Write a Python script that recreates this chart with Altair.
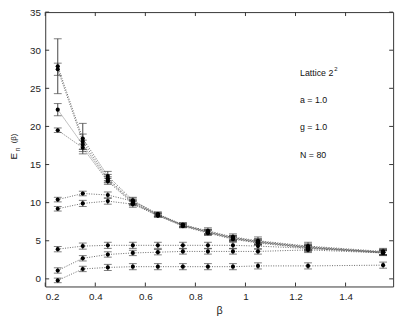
import altair as alt
import pandas as pd

beta = [0.25, 0.35, 0.45, 0.55, 0.65, 0.75, 0.85, 0.95, 1.05, 1.25, 1.55]

E8 = [27.9, 18.4, 13.5, 10.3, 8.5, 7.1, 6.3, 5.5, 5.0, 4.3, 3.6]
E7 = [27.5, 18.0, 13.2, 10.1, 8.4, 7.0, 6.2, 5.4, 4.9, 4.2, 3.5]
E6 = [22.2, 17.6, 13.0, 10.0, 8.4, 7.0, 6.1, 5.3, 4.8, 4.1, 3.5]
E5 = [19.5, 17.2, 12.8, 9.9, 8.3, 6.9, 6.0, 5.2, 4.7, 4.0, 3.4]
E4 = [10.4, 11.2, 11.0, 10.2, 8.5, 7.1, 6.2, 5.4, 4.9, 4.2, 3.5]
E3 = [9.2, 9.9, 10.2, 9.8, 8.3, 7.0, 6.1, 5.3, 4.8, 4.1, 3.4]
E2 = [3.9, 4.3, 4.4, 4.4, 4.4, 4.4, 4.4, 4.4, 4.3, 4.0, 3.5]
E1 = [1.1, 2.7, 3.2, 3.4, 3.5, 3.6, 3.6, 3.6, 3.6, 3.8, 3.4]
E0 = [-0.2, 1.3, 1.5, 1.6, 1.6, 1.6, 1.6, 1.6, 1.7, 1.7, 1.8]

err8 = [3.6, 2.0, 0.6, 0.4, 0.3, 0.3, 0.4, 0.4, 0.5, 0.5, 0.4]
err7 = [0.8, 1.0, 0.5, 0.3, 0.2, 0.2, 0.3, 0.3, 0.4, 0.4, 0.3]
err6 = [0.8, 0.6, 0.4, 0.3, 0.2, 0.2, 0.3, 0.3, 0.3, 0.3, 0.3]
err5 = [0.3, 0.5, 0.4, 0.3, 0.2, 0.2, 0.3, 0.3, 0.3, 0.3, 0.3]
err4 = [0.3, 0.3, 0.4, 0.4, 0.2, 0.2, 0.3, 0.3, 0.3, 0.3, 0.3]
err3 = [0.3, 0.4, 0.4, 0.4, 0.2, 0.2, 0.3, 0.3, 0.3, 0.3, 0.3]
err2 = [0.35, 0.4, 0.4, 0.4, 0.4, 0.4, 0.4, 0.4, 0.4, 0.4, 0.4]
err1 = [0.35, 0.35, 0.35, 0.35, 0.35, 0.35, 0.35, 0.35, 0.35, 0.35, 0.35]
err0 = [0.3, 0.35, 0.4, 0.4, 0.4, 0.4, 0.4, 0.4, 0.4, 0.4, 0.4]

x_ticks = [0.2, 0.4, 0.6, 0.8, 1.0, 1.2, 1.4]
y_ticks = [0, 5, 10, 15, 20, 25, 30, 35]

series = {
    "E0": (E0, err0), "E1": (E1, err1), "E2": (E2, err2),
    "E3": (E3, err3), "E4": (E4, err4), "E5": (E5, err5),
    "E6": (E6, err6), "E7": (E7, err7), "E8": (E8, err8),
}

rows = []
for name, (vals, errs) in series.items():
    for b, v, e in zip(beta, vals, errs):
        rows.append(dict(series=name, beta=b, E=v, lo=v - e, hi=v + e))
df = pd.DataFrame(rows)

W, H = 355, 280
xs = alt.Scale(domain=[0.2, 1.59], nice=False, zero=False)
ys = alt.Scale(domain=[-1, 35], nice=False, zero=False)

xaxis = alt.Axis(values=x_ticks, title="β", format="~g", labelPadding=5, titlePadding=4,
                 titleFontSize=11, titleFontWeight="normal", labelOverlap=False)
yaxis = alt.Axis(values=y_ticks, title=None, labelPadding=5, labelOverlap=False)

base = alt.Chart(df)
lines = base.mark_line(strokeDash=[1, 1.5], strokeWidth=1, color="#666").encode(
    x=alt.X("beta:Q", scale=xs, axis=xaxis),
    y=alt.Y("E:Q", scale=ys, axis=yaxis),
    detail="series:N",
)
bars = base.mark_rule(color="#444", strokeWidth=1).encode(
    x=alt.X("beta:Q", scale=xs, axis=xaxis), y=alt.Y("lo:Q", scale=ys, axis=yaxis), y2="hi:Q")
cap_lo = base.mark_tick(orient="horizontal", size=8, thickness=1, color="#444").encode(
    x=alt.X("beta:Q", scale=xs, axis=xaxis), y=alt.Y("lo:Q", scale=ys, axis=yaxis))
cap_hi = base.mark_tick(orient="horizontal", size=8, thickness=1, color="#444").encode(
    x=alt.X("beta:Q", scale=xs, axis=xaxis), y=alt.Y("hi:Q", scale=ys, axis=yaxis))
points = base.mark_circle(size=18, color="black", opacity=1).encode(
    x=alt.X("beta:Q", scale=xs, axis=xaxis), y=alt.Y("E:Q", scale=ys, axis=yaxis))

xt = alt.Chart(pd.DataFrame({"t": x_ticks}))
yt = alt.Chart(pd.DataFrame({"t": y_ticks}))
tick_col = "#333"
t_bottom = xt.mark_rule(color=tick_col).encode(x=alt.X("t:Q", scale=xs, axis=xaxis), y=alt.value(H), y2=alt.value(H - 4))
t_top = xt.mark_rule(color=tick_col).encode(x=alt.X("t:Q", scale=xs, axis=xaxis), y=alt.value(0), y2=alt.value(4))
t_left = yt.mark_rule(color=tick_col).encode(y=alt.Y("t:Q", scale=ys, axis=yaxis), x=alt.value(0), x2=alt.value(4))
t_right = yt.mark_rule(color=tick_col).encode(y=alt.Y("t:Q", scale=ys, axis=yaxis), x=alt.value(W), x2=alt.value(W - 4))

font = "Liberation Sans"
lab = pd.DataFrame({"a": [0]})
def txt(s, x, y, size=9, angle=0, align="left"):
    return alt.Chart(lab).mark_text(text=s, font=font, fontSize=size, color="#111",
                                    align=align, baseline="middle", angle=angle).encode(
        x=alt.value(x), y=alt.value(y))

annot = [
    txt("Lattice 2", 260, 62),
    txt("2", 295, 58, size=6),
    txt("a = 1.0", 260, 90),
    txt("g = 1.0", 260, 117),
    txt("N = 80", 260, 146),
    txt("E", -32, 147, size=10, angle=270, align="center"),
    txt("n", -28, 140, size=7, angle=270, align="center"),
    txt("(β)", -32, 129, size=8, angle=270, align="center"),
]

chart = alt.layer(lines, bars, cap_lo, cap_hi, points, t_bottom, t_top, t_left, t_right, *annot).properties(
    width=W, height=H, autosize="none",
    padding={"left": 38, "top": 1, "right": 6, "bottom": 30},
).configure_view(stroke="#333", strokeWidth=1).configure_axis(
    domain=False, ticks=False, grid=False, labelFont=font, labelFontSize=10,
    labelColor="#222", titleFont=font, titleColor="#222", labelOverlap=False,
)

chart.save("out.html", embed_options={"renderer": "svg", "actions": False})
